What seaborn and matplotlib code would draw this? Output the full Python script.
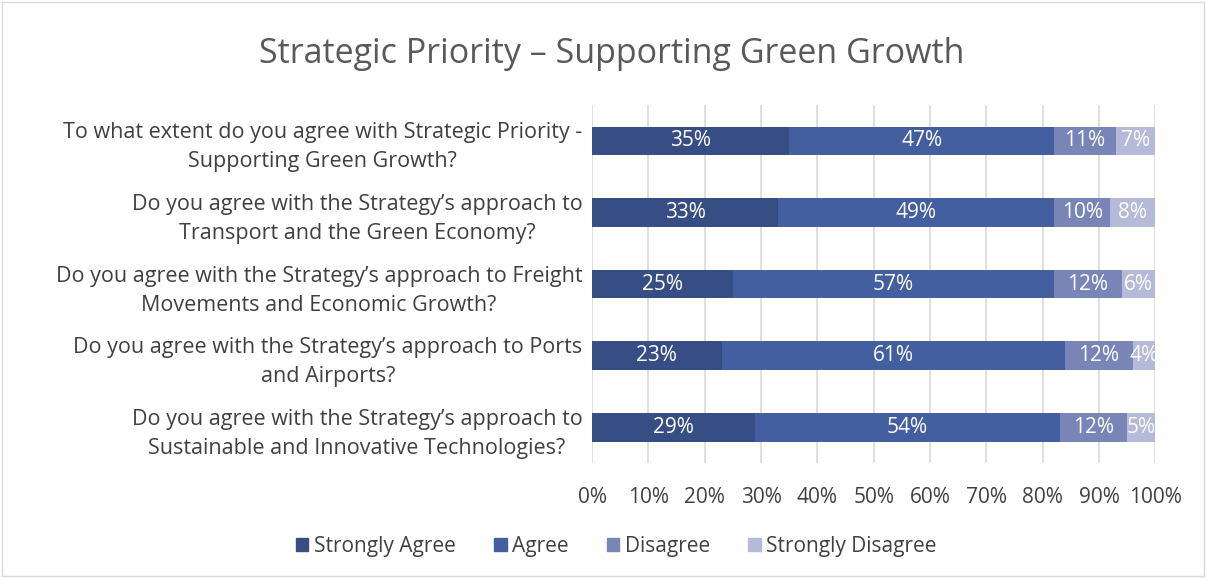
import matplotlib
matplotlib.use("Agg")
import matplotlib.pyplot as plt
from matplotlib.patches import Rectangle
import seaborn as sns
import pandas as pd
import numpy as np

questions = [
    "To what extent do you agree with Strategic Priority -\nSupporting Green Growth?",
    "Do you agree with the Strategy\u2019s approach to\nTransport and the Green Economy?",
    "Do you agree with the Strategy\u2019s approach to Freight\nMovements and Economic Growth?",
    "Do you agree with the Strategy\u2019s approach to Ports\nand Airports?",
    "Do you agree with the Strategy\u2019s approach to\nSustainable and Innovative Technologies?",
]
strongly_agree = [35, 33, 25, 23, 29]
agree = [47, 49, 57, 61, 54]
disagree = [11, 10, 12, 12, 12]
strongly_disagree = [7, 8, 6, 4, 5]

series_names = ["Strongly Agree", "Agree", "Disagree", "Strongly Disagree"]
series_values = [strongly_agree, agree, disagree, strongly_disagree]
colors = ["#374E85", "#445F9F", "#7885B6", "#B4BAD8"]
tick_values = list(range(0, 101, 10))

sns.set_theme(style="white")
plt.rcParams["font.family"] = ["Open Sans", "DejaVu Sans"]
text_color = "#595959"
label_color = "#404040"

fig = plt.figure(figsize=(12.06, 5.78), dpi=100)
ax = fig.add_axes([0.491, 0.199, 0.467, 0.619])

vals = np.array(series_values, dtype=float)
cum = np.cumsum(vals, axis=0)

# Draw cumulative totals from the longest back so each segment shows as a stack
for i in range(len(series_names) - 1, -1, -1):
    df = pd.DataFrame({"question": questions, "value": cum[i]})
    sns.barplot(data=df, x="value", y="question", color=colors[i], width=0.4,
                orient="h", ax=ax, saturation=1, linewidth=0, zorder=3)

# Value labels centred in each segment
for i in range(len(series_names)):
    for j in range(len(questions)):
        v = vals[i, j]
        ax.text(cum[i, j] - v / 2, j, f"{int(v)}%", ha="center",
                va="center", color="white", fontsize=15, zorder=5, clip_on=True)

ax.set_xlim(0, 100)
ax.set_ylim(len(questions) - 0.5, -0.5)
ax.set_xticks(tick_values)
ax.set_xticklabels([f"{t}%" for t in tick_values], fontsize=15, color=label_color)
ax.tick_params(axis="x", length=0, pad=17)
ax.tick_params(axis="y", length=0, pad=7)
for lab in ax.get_yticklabels():
    lab.set_fontsize(15.5)
    lab.set_color(label_color)
    lab.set_horizontalalignment("right")
    lab.set_multialignment("center")
    lab.set_linespacing(1.5)
ax.set_xlabel("")
ax.set_ylabel("")
ax.grid(axis="x", color="#D9D9D9", linewidth=1.2, zorder=0)
ax.set_axisbelow(True)
for s in ax.spines.values():
    s.set_visible(False)

handles = [Rectangle((0, 0), 1, 1, color=c) for c in colors]
fig.legend(handles, series_names, loc="center", bbox_to_anchor=(0.511, 0.055),
           ncol=4, frameon=False, fontsize=15, handlelength=0.6, handleheight=0.6,
           handletextpad=0.25, columnspacing=1.85, labelcolor=label_color)

fig.text(0.507, 0.907, "Strategic Priority \u2013 Supporting Green Growth", ha="center",
         va="center", fontsize=24.5, color=text_color)

fig.patches.append(Rectangle((0.0015, 0.003), 0.997, 0.994, transform=fig.transFigure,
                             fill=False, edgecolor="#D9D9D9", linewidth=1))

fig.savefig("out.png", dpi=100)
